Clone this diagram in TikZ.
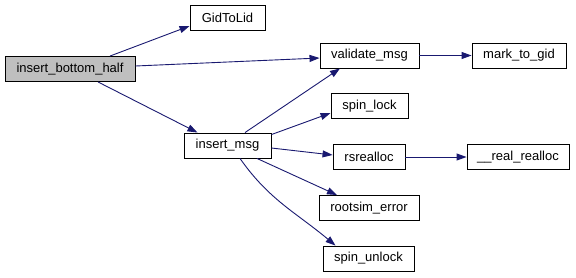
\documentclass[tikz,border=0pt]{standalone}
\usepackage{fontspec}
\setmainfont{Liberation Sans}
\usetikzlibrary{arrows.meta}
\definecolor{edgeblue}{HTML}{191970}
\definecolor{rootgray}{HTML}{BFBFBF}
\begin{document}
\begin{tikzpicture}[x=1pt,y=-1pt,
  fn/.style={draw=black,line width=0.9pt,fill=white,inner sep=0pt,
    minimum height=25pt,font=\fontsize{13}{15}\selectfont},
  call/.style={draw=edgeblue,line width=0.9pt,
    -{Triangle[length=10pt,width=7pt]},fill=none},
]
\useasboundingbox (0,0) rectangle (576,277);
% functions
\node[fn,fill=rootgray,minimum width=130pt] (ibh) at (70,69) {insert\_bottom\_half};
\node[fn,minimum width=75pt] (gid) at (227.5,18) {GidToLid};
\node[fn,minimum width=99pt] (vm) at (369.5,55.5) {validate\_msg};
\node[fn,minimum width=94pt] (mtg) at (519,55.5) {mark\_to\_gid};
\node[fn,minimum width=77pt] (sl) at (369.5,106) {spin\_lock};
\node[fn,minimum width=87pt] (im) at (227.5,145.5) {insert\_msg};
\node[fn,minimum width=72pt] (rs) at (369,157) {rsrealloc};
\node[fn,minimum width=102pt] (rr) at (518,157) {\_\_real\_realloc};
\node[fn,minimum width=100pt] (re) at (369,208) {rootsim\_error};
\node[fn,minimum width=91pt] (su) at (368.5,258.5) {spin\_unlock};
% calls
\draw[call] ([xshift=40pt]ibh.north) -- ([yshift=-8pt]gid.west);
\draw[call] ([yshift=3pt]ibh.east) -- ([yshift=-2.5pt]vm.west);
\draw[call] ([xshift=28pt]ibh.south) -- ([xshift=-30pt]im.north);
\draw[call] (vm.east) -- (mtg.west);
\draw[call] ([xshift=17.5pt]im.north) -- ([xshift=-29.5pt]vm.south);
\draw[call] ([yshift=-2pt]im.north east) -- ([yshift=-7pt]sl.west);
\draw[call] ([yshift=-2.5pt]im.east) -- ([yshift=2pt]rs.west);
\draw[call] (rs.east) -- (rr.west);
\draw[call] ([xshift=29.5pt]im.south) -- ([xshift=-32pt]re.north);
\draw[call] ([xshift=12.5pt]im.south) to[out=-55,in=140] ([xshift=-33pt]su.north);
\end{tikzpicture}
\end{document}
